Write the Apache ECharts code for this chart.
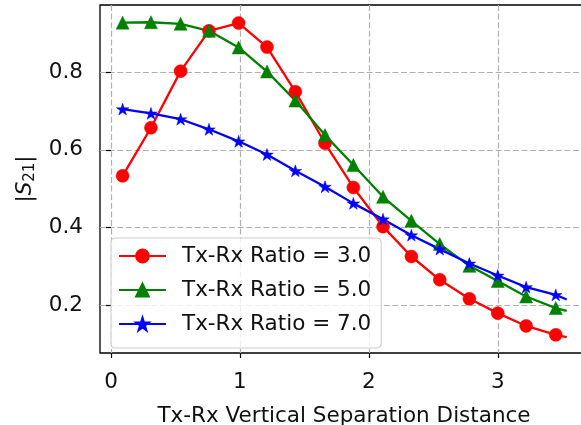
<!DOCTYPE html>
<html>
<head>
<meta charset="utf-8">
<script src="https://cdn.jsdelivr.net/npm/echarts@6/dist/echarts.min.js"></script>
<style>
  html, body { margin: 0; padding: 0; background: #fff; }
  #chart { width: 581px; height: 425px; }
</style>
</head>
<body>
<div id="chart"></div>
<script>
// Vertical separation distance (last entry is the end of the curve, no marker)
var distance = [0.09, 0.31, 0.54, 0.76, 0.99, 1.21, 1.43, 1.66, 1.88, 2.11, 2.33, 2.55, 2.78, 3.00, 3.22, 3.45, 3.535];

// |S21| for each Tx-Rx ratio
var ratio3 = [0.533, 0.657, 0.803, 0.907, 0.927, 0.865, 0.750, 0.617, 0.503, 0.402, 0.325, 0.265, 0.216, 0.179, 0.146, 0.123, 0.117];
var ratio5 = [0.928, 0.929, 0.925, 0.907, 0.864, 0.802, 0.727, 0.638, 0.561, 0.479, 0.417, 0.357, 0.301, 0.262, 0.222, 0.192, 0.185];
var ratio7 = [0.705, 0.694, 0.679, 0.653, 0.622, 0.588, 0.546, 0.505, 0.462, 0.421, 0.380, 0.344, 0.307, 0.276, 0.246, 0.226, 0.214];

var seriesNames = ['Tx-Rx Ratio = 3.0', 'Tx-Rx Ratio = 5.0', 'Tx-Rx Ratio = 7.0'];

var xTicks = [0, 1, 2, 3];
var yTicks = [0.2, 0.4, 0.6, 0.8];

var FONT = 'DejaVu Sans';
var TEXT = '#111';

// five-pointed star marker, inner radius 0.382 of outer
function starSymbol() {
  var d = '';
  for (var k = 0; k < 10; k++) {
    var r = k % 2 ? 0.381966 : 1;
    var a = (-90 + k * 36) * Math.PI / 180;
    var x = (r * Math.cos(a) * 100).toFixed(2);
    var y = (r * Math.sin(a) * 100).toFixed(2);
    d += (k === 0 ? 'M' : 'L') + x + ' ' + y + ' ';
  }
  return 'path://' + d + 'Z';
}

// marks are drawn on every point except the curve's end point
function pairs(ys) {
  return distance.map(function (x, i) {
    var item = { value: [x, ys[i]] };
    if (i === distance.length - 1) item.symbol = 'none';
    return item;
  });
}

function lineSeries(name, ys, color, symbol, size) {
  return {
    name: name,
    type: 'line',
    data: pairs(ys),
    symbol: symbol,
    symbolSize: size,
    symbolKeepAspect: true,
    showAllSymbol: true,
    lineStyle: { color: color, width: 2.3 },
    itemStyle: { color: color, borderColor: color, borderWidth: 0.5 },
    emphasis: { disabled: true },
    animation: false
  };
}

var gridLine = { show: true, lineStyle: { color: '#b0b0b0', width: 1.2, type: [6, 2.6] } };

var chart = echarts.init(document.getElementById('chart'), null, { renderer: 'canvas' });
chart.setOption({
  backgroundColor: '#fff',
  animation: false,
  grid: {
    left: 100, top: 5, right: -7, bottom: 72,
    containLabel: false,
    outerBoundsMode: 'none',
    show: true, borderColor: '#000', borderWidth: 1.3, backgroundColor: 'transparent'
  },
  xAxis: {
    type: 'value',
    min: -0.0853, max: 3.70,
    axisLine: { show: false },
    axisTick: { show: true, length: 5, lineStyle: { color: '#000', width: 1.2 }, customValues: xTicks },
    axisLabel: {
      customValues: xTicks, margin: 18,
      fontFamily: FONT, fontSize: 21.5, color: TEXT,
      formatter: function (v) { return String(v); }
    },
    splitLine: gridLine,
    name: 'Tx-Rx Vertical Separation Distance',
    nameLocation: 'middle', nameGap: 52,
    nameTextStyle: { fontFamily: FONT, fontSize: 21.5, color: TEXT }
  },
  yAxis: {
    type: 'value',
    min: 0.0762, max: 0.9735,
    axisLine: { show: false },
    axisTick: { show: true, length: 5, lineStyle: { color: '#000', width: 1.2 }, customValues: yTicks },
    axisLabel: {
      customValues: yTicks, margin: 17,
      fontFamily: FONT, fontSize: 21.5, color: TEXT,
      formatter: function (v) { return v.toFixed(1); }
    },
    splitLine: gridLine,
    name: '{b||}{s|S}{d|21}{b||}',
    nameLocation: 'middle', nameGap: 60, nameRotate: 90,
    nameTextStyle: {
      fontFamily: FONT, fontSize: 21.5, color: TEXT,
      rich: {
        b: { fontFamily: FONT, fontSize: 21.5, color: TEXT },
        s: { fontFamily: FONT, fontSize: 21.5, fontStyle: 'italic', color: TEXT },
        d: { fontFamily: FONT, fontSize: 15, color: TEXT, padding: [9, 0, 0, 0] }
      }
    }
  },
  legend: {
    orient: 'vertical',
    left: 111, top: 238,
    data: seriesNames,
    selectedMode: false,
    backgroundColor: 'rgba(255,255,255,0.8)',
    borderColor: '#cccccc', borderWidth: 1, borderRadius: 4,
    padding: [7, 10, 13, 7],
    itemWidth: 47, itemHeight: 16, itemGap: 12,
    textStyle: { fontFamily: FONT, fontSize: 21.5, color: TEXT, padding: [0, 0, 0, 11] }
  },
  series: [
    lineSeries(seriesNames[0], ratio3, '#ff0000', 'circle', 13),
    lineSeries(seriesNames[1], ratio5, '#008000', 'triangle', 13),
    lineSeries(seriesNames[2], ratio7, '#0000ff', starSymbol(), 12.5)
  ]
});
</script>
</body>
</html>
